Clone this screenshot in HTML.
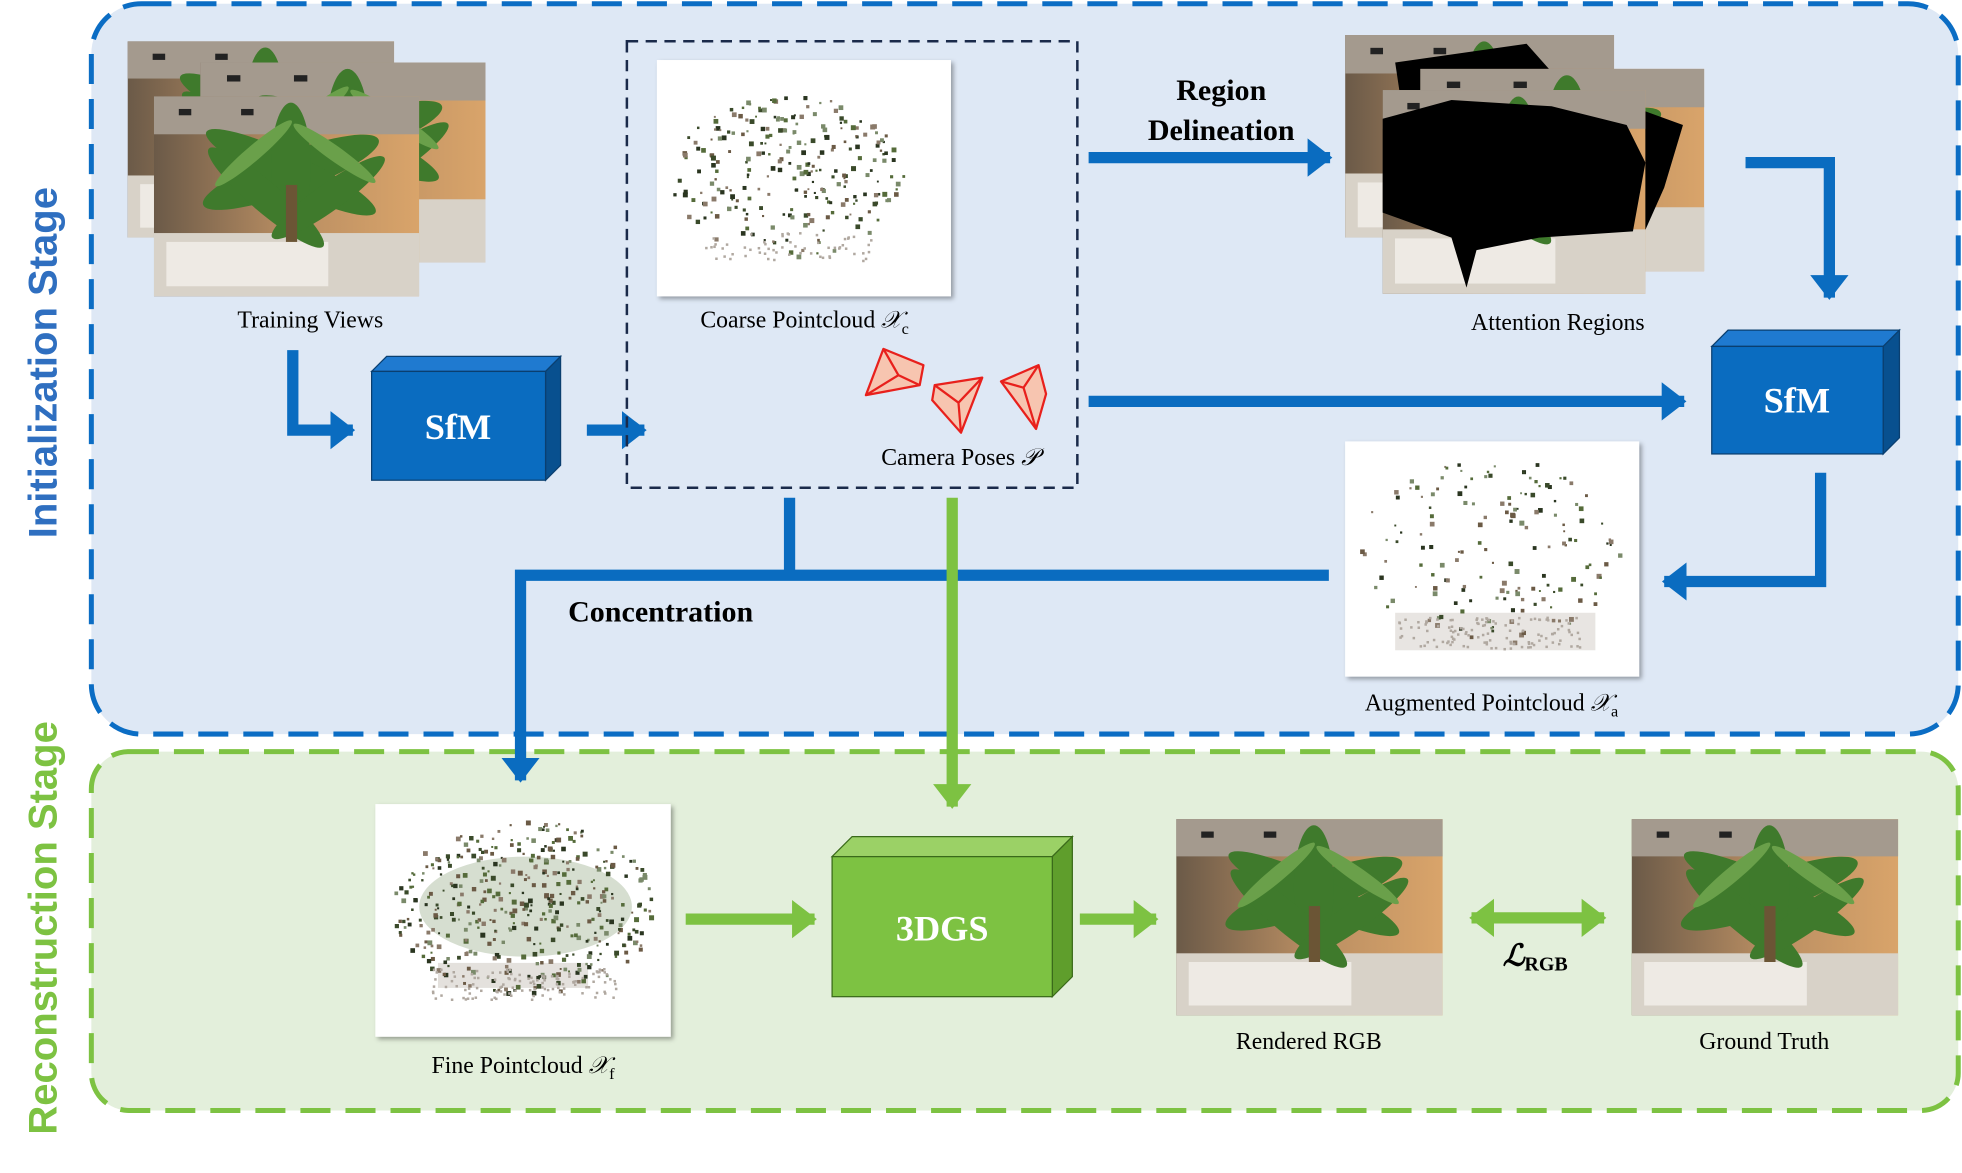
<!DOCTYPE html>
<html><head><meta charset="utf-8"><style>
html,body{margin:0;padding:0;background:#fff;}
svg{display:block;}
text{font-family:"Liberation Serif",serif;}
</style></head><body>
<svg width="1962" height="1173" viewBox="0 0 1568 938" preserveAspectRatio="none" xmlns="http://www.w3.org/2000/svg">
<defs>
  <linearGradient id="bg" x1="0" y1="0" x2="1" y2="0">
    <stop offset="0" stop-color="#6b5a48"/><stop offset="0.5" stop-color="#b88d62"/><stop offset="1" stop-color="#d9a46a"/>
  </linearGradient>
  <symbol id="photo" viewBox="0 0 213 158" preserveAspectRatio="none">
    <rect width="213" height="158" fill="url(#bg)"/>
    <rect x="0" y="0" width="213" height="30" fill="#a49a8e"/>
    <rect x="20" y="10" width="10" height="5" fill="#222"/><rect x="70" y="10" width="10" height="5" fill="#222"/>
    <rect x="0" y="108" width="213" height="50" fill="#d8d2c8"/>
    <rect x="10" y="115" width="130" height="35" fill="#eeeae4"/>
    <g fill="#3f7a2c">
      <ellipse cx="110" cy="60" rx="75" ry="16" transform="rotate(-20 110 60)"/>
      <ellipse cx="110" cy="60" rx="75" ry="14" transform="rotate(25 110 60)"/>
      <ellipse cx="110" cy="55" rx="16" ry="50"/>
      <ellipse cx="90" cy="80" rx="60" ry="12" transform="rotate(40 90 80)"/>
      <ellipse cx="140" cy="80" rx="55" ry="11" transform="rotate(-35 140 80)"/>
    </g>
    <g fill="#6aa04a">
      <ellipse cx="80" cy="45" rx="40" ry="6" transform="rotate(-40 80 45)"/>
      <ellipse cx="145" cy="45" rx="40" ry="6" transform="rotate(35 145 45)"/>
    </g>
    <rect x="106" y="70" width="9" height="45" fill="#6b5535"/>
  </symbol>
  <symbol id="pc" viewBox="0 0 100 80">
    <g fill="#4a5a3a" id="dots"></g>
  </symbol>
  <filter id="sh"><feDropShadow dx="2" dy="2" stdDeviation="2" flood-opacity="0.35"/></filter>
  <marker id="ab" markerWidth="4" markerHeight="4" refX="2" refY="2" orient="auto" markerUnits="strokeWidth"><path d="M0,0.3 L2.2,2 L0,3.7z" fill="#0a6cc0"/></marker>
  <marker id="ag" markerWidth="4" markerHeight="4" refX="2" refY="2" orient="auto-start-reverse" markerUnits="strokeWidth"><path d="M0,0.3 L2.2,2 L0,3.7z" fill="#7dc242"/></marker>
</defs>

<rect x="73" y="3" width="1492" height="584" rx="40" fill="#dee8f5" stroke="#0b6dc4" stroke-width="4" stroke-dasharray="24 12"/>
<rect x="73" y="601" width="1492" height="287" rx="30" fill="#e3efdb" stroke="#7dc242" stroke-width="4" stroke-dasharray="24 12"/>
<text transform="translate(45 290) rotate(-90)" text-anchor="middle" fill="#2f6fc0" style="font-family:'Liberation Sans',sans-serif;font-weight:bold;font-size:32px">Initialization Stage</text>
<text transform="translate(45 742) rotate(-90)" text-anchor="middle" fill="#7dc242" style="font-family:'Liberation Sans',sans-serif;font-weight:bold;font-size:32px">Reconstruction Stage</text>

<use href="#photo" x="102" y="33" width="213" height="157"/>
<use href="#photo" x="160" y="50" width="228" height="160"/>
<use href="#photo" x="123" y="77" width="212" height="160"/>
<text x="248" y="262" font-size="19" text-anchor="middle">Training Views</text>

<g stroke="#0a6cc0" stroke-width="9" fill="none">
  <path d="M234 280 V344 H282" marker-end="url(#ab)"/>
  <path d="M469 344 H515" marker-end="url(#ab)"/>
  <path d="M870 126 H1063" marker-end="url(#ab)"/>
  <path d="M1395 130 H1462 V238" marker-end="url(#ab)"/>
  <path d="M870 321 H1346" marker-end="url(#ab)"/>
  <path d="M1455 378 V465 H1330" marker-end="url(#ab)"/>
  <path d="M1062 460 H416 V624" marker-end="url(#ab)"/>
  <path d="M631 398 V460"/>
</g>
<g stroke="#7dc242" stroke-width="9" fill="none">
  <path d="M761 398 V645" marker-end="url(#ag)"/>
  <path d="M548 735 H651" marker-end="url(#ag)"/>
  <path d="M863 735 H924" marker-end="url(#ag)"/>
  <path d="M1176 734 H1282" marker-start="url(#ag)" marker-end="url(#ag)"/>
</g>

<polygon points="297,297 309,285 448,285 436,297" fill="#1f7ad0" stroke="#0a3f70" stroke-width="1"/>
<polygon points="436,297 448,285 448,372 436,384" fill="#08508f" stroke="#0a3f70" stroke-width="1"/>
<rect x="297" y="297" width="139" height="87" fill="#0a6cc0" stroke="#0a3f70" stroke-width="1"/>
<text x="366" y="351" font-size="29" font-weight="bold" fill="#fff" text-anchor="middle">SfM</text>
<polygon points="1368,277 1381,264 1518,264 1505,277" fill="#1f7ad0" stroke="#0a3f70" stroke-width="1"/>
<polygon points="1505,277 1518,264 1518,350 1505,363" fill="#08508f" stroke="#0a3f70" stroke-width="1"/>
<rect x="1368" y="277" width="137" height="86" fill="#0a6cc0" stroke="#0a3f70" stroke-width="1"/>
<text x="1436" y="330" font-size="29" font-weight="bold" fill="#fff" text-anchor="middle">SfM</text>

<rect x="501" y="33" width="360" height="357" fill="none" stroke="#1a2a4a" stroke-width="2" stroke-dasharray="9 6"/>
<rect x="525" y="48" width="235" height="189" fill="#fff" filter="url(#sh)"/>
<g id="pc1"></g>
<text x="643" y="262" font-size="19" text-anchor="middle">Coarse Pointcloud <tspan font-style="italic">𝒳</tspan><tspan font-size="13" dy="5">c</tspan></text>
<g fill="#f7c5b0" stroke="#e8201c" stroke-width="1.8" stroke-linejoin="round">
  <polygon points="706,279 738,292 735,308 692,316"/>
  <path d="M706,279 L718,300 L692,316 M718,300 L735,308" fill="none"/>
  <polygon points="747,308 785,302 768,346 745,320"/>
  <path d="M766,322 L747,308 M766,322 L785,302 M766,322 L768,346" fill="none"/>
  <polygon points="800,305 830,292 836,315 828,343"/>
  <path d="M818,310 L800,305 M818,310 L830,292 M818,310 L828,343" fill="none"/>
</g>
<text x="767" y="372" font-size="19" text-anchor="middle">Camera Poses <tspan font-style="italic">𝒫</tspan></text>

<text x="976" y="80" font-size="24" font-weight="bold" text-anchor="middle">Region</text>
<text x="976" y="112" font-size="24" font-weight="bold" text-anchor="middle">Delineation</text>

<use href="#photo" x="1075" y="28" width="215" height="162"/>
<polygon points="1115,50 1220,35 1260,80 1230,150 1130,150" fill="#000"/>
<use href="#photo" x="1135" y="55" width="227" height="162"/>
<polygon points="1290,80 1345,100 1330,150 1310,195 1270,200" fill="#000"/>
<use href="#photo" x="1105" y="72" width="210" height="163"/>
<polygon points="1105,95 1160,80 1240,85 1300,100 1315,130 1305,185 1230,190 1180,200 1172,230 1160,190 1105,170" fill="#000"/>
<text x="1245" y="264" font-size="19" text-anchor="middle">Attention Regions</text>

<rect x="1075" y="353" width="235" height="188" fill="#fff" filter="url(#sh)"/>
<rect x="1115" y="490" width="160" height="30" fill="#d8d4cf" opacity="0.6"/>
<g id="pc2"></g>
<text x="1192" y="568" font-size="19" text-anchor="middle">Augmented Pointcloud <tspan font-style="italic">𝒳</tspan><tspan font-size="13" dy="5">a</tspan></text>

<text x="528" y="497" font-size="24" font-weight="bold" text-anchor="middle">Concentration</text>

<rect x="300" y="643" width="236" height="186" fill="#fff" filter="url(#sh)"/>
<ellipse cx="420" cy="725" rx="85" ry="40" fill="#5a7a45" opacity="0.25"/>
<rect x="350" y="770" width="120" height="20" fill="#d8d4cf" opacity="0.7"/>
<g id="pc3"></g>
<text x="418" y="858" font-size="19" text-anchor="middle">Fine Pointcloud <tspan font-style="italic">𝒳</tspan><tspan font-size="13" dy="5">f</tspan></text>

<polygon points="665,685 681,669 857,669 841,685" fill="#9bd166" stroke="#3a6a1a" stroke-width="1"/>
<polygon points="841,685 857,669 857,781 841,797" fill="#5f9e2c" stroke="#3a6a1a" stroke-width="1"/>
<rect x="665" y="685" width="176" height="112" fill="#7dc242" stroke="#3a6a1a" stroke-width="1"/>
<text x="753" y="752" font-size="29" font-weight="bold" fill="#fff" text-anchor="middle">3DGS</text>

<use href="#photo" x="940" y="655" width="213" height="157"/>
<text x="1046" y="839" font-size="19" text-anchor="middle">Rendered RGB</text>
<use href="#photo" x="1304" y="655" width="213" height="157"/>
<text x="1410" y="839" font-size="19" text-anchor="middle">Ground Truth</text>
<text x="1201" y="772" font-size="24" font-weight="bold" font-style="italic">ℒ<tspan font-size="16" font-style="normal" dy="4">RGB</tspan></text>
</svg>
<script>
(function(){
  var ns="http://www.w3.org/2000/svg";
  var seed=7;function r(){seed=(seed*16807)%2147483647;return seed/2147483647;}
  var cols=["#3a4a2a","#556b3a","#6b5a45","#2a3520","#7a8a6a","#8a7a6a"];
  function fill(id,cx,cy,rx,ry,n,grey){
    var g=document.getElementById(id);
    for(var i=0;i<n;i++){
      var a=r()*Math.PI*2,d=Math.sqrt(r());
      var c=document.createElementNS(ns,"rect");
      var s=1.5+r()*2.5;
      c.setAttribute("x",cx+Math.cos(a)*d*rx);c.setAttribute("y",cy+Math.sin(a)*d*ry);
      c.setAttribute("width",s);c.setAttribute("height",s);
      c.setAttribute("fill",cols[Math.floor(r()*cols.length)]);
      g.appendChild(c);
    }
    for(var j=0;j<grey;j++){
      var c2=document.createElementNS(ns,"rect");
      c2.setAttribute("x",cx-rx*0.7+r()*rx*1.4);c2.setAttribute("y",cy+ry*0.7+r()*ry*0.35);
      c2.setAttribute("width",2);c2.setAttribute("height",2);c2.setAttribute("fill","#b0a8a0");
      g.appendChild(c2);
    }
  }
  fill("pc1",630,140,95,65,260,60);
  fill("pc2",1190,440,105,75,160,120);
  fill("pc3",418,725,105,70,420,120);
})();
</script>
</body></html>
